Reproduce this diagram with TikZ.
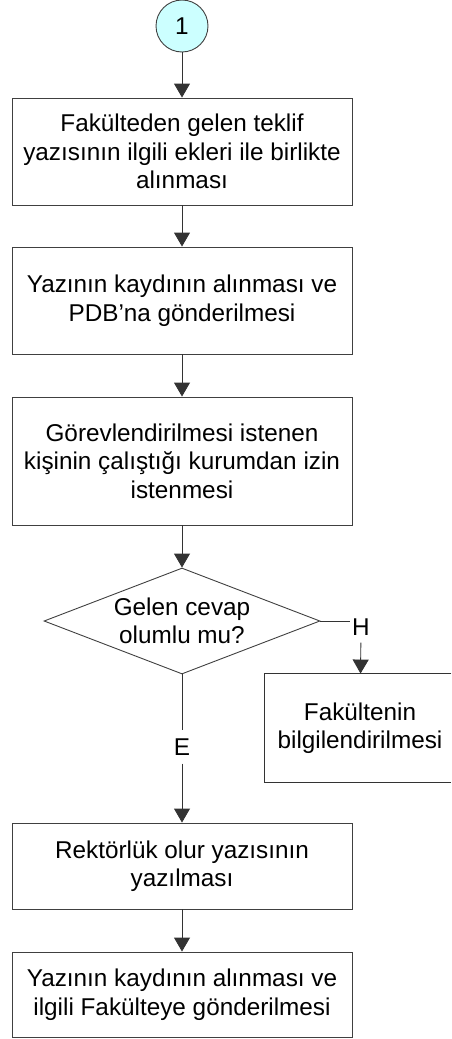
\documentclass[tikz,border=0pt]{standalone}
\usepackage{fontspec}
\setmainfont{Liberation Sans}
\usetikzlibrary{shapes.geometric, arrows.meta}
\definecolor{startfill}{HTML}{CCFFFF}
\tikzset {
    >={Triangle[width=16pt,length=14pt]},
    every node/.style={font=\fontsize{24.3}{28.5}\selectfont},
    process/.style={draw=black!75, line width=0.9pt, align=center, minimum width=340pt, inner sep=0pt},
    decision/.style={diamond, draw=black!75, line width=0.9pt, align=center, minimum width=276pt, minimum height=106pt, inner sep=0pt, shape aspect=2.6},
    connector/.style={circle, draw=black!75, line width=0.9pt, fill=startfill, minimum size=52pt, inner sep=0pt},
    flow/.style={draw=black!80, line width=0.9pt}
}

\begin{document}
\begin{tikzpicture}[x=1pt, y=-1pt]
    \useasboundingbox (0,0) rectangle (451,1039);

    \node[connector] (c1) at (182,26) {1};
    \node[process, minimum height=107pt] (b1) at (182,151.5) {Fakülteden gelen teklif\\yazısının ilgili ekleri ile birlikte\\alınması};
    \node[process, minimum height=107pt] (b2) at (182,300.5) {Yazının kaydının alınması ve\\PDB’na gönderilmesi};
    \node[process, minimum height=128pt] (b3) at (182,461) {Görevlendirilmesi istenen\\kişinin çalıştığı kurumdan izin\\istenmesi};
    \node[decision] (d1) at (182,621) {Gelen cevap\\olumlu mu?};
    \node[inner xsep=2pt, inner ysep=7pt] (h) at (361,627) {H};
    \node[process, draw=none, minimum width=190pt, minimum height=108pt] (b6) at (360,728) {Fakültenin\\bilgilendirilmesi};
    \node[inner xsep=2pt, inner ysep=8pt] (e) at (182,747) {E};
    \node[process, minimum height=86pt] (b4) at (182,866) {Rektörlük olur yazısının\\yazılması};
    \node[process, minimum height=85pt] (b5) at (182,994.5) {Yazının kaydının alınması ve\\ilgili Fakülteye gönderilmesi};

    % box runs off the right edge of the page
    \draw[flow] ([xshift=-4pt]b6.north east) -- (b6.north west) -- (b6.south west) -- ([xshift=-4pt]b6.south east);

    \draw[flow, ->] (c1) -- (b1);
    \draw[flow, ->] (b1) -- (b2);
    \draw[flow, ->] (b2) -- (b3);
    \draw[flow, ->] (b3) -- (d1);
    \draw[flow] (d1.east) -- (h.west |- d1.east);
    \draw[flow, ->] (h) -- (b6);
    \draw[flow] (d1) -- (e);
    \draw[flow, ->] (e) -- (b4);
    \draw[flow, ->] (b4) -- (b5);
\end{tikzpicture}
\end{document}
